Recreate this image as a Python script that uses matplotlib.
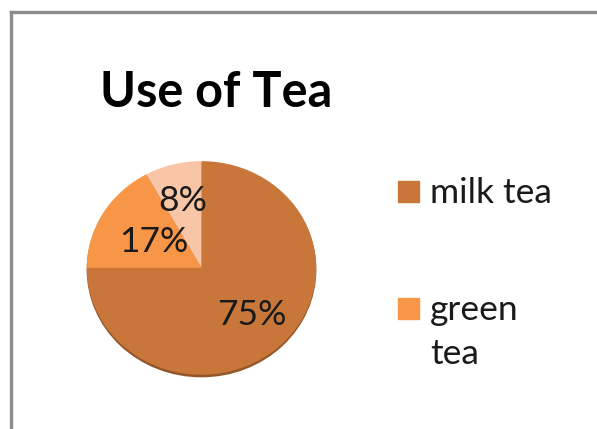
import matplotlib.pyplot as plt
from matplotlib.lines import Line2D
from matplotlib.patches import Rectangle, Ellipse
import numpy as np

# tea usage shares (%)
categorias = ["milk tea", "green tea", "black tea"]
valores = [75, 17, 8]
cores = ["#C8763A", "#F79646", "#F8C6A6"]
legenda = ["milk tea", "green\ntea"]

W, H = 597, 429
fig = plt.figure(figsize=(W / 100, H / 100), dpi=100)
fig.patch.set_facecolor("white")

# frame of the chart area (top and left only)
fig.add_artist(Line2D([11 / W, 1], [1 - 12 / H, 1 - 12 / H], color="#8c8c8c", lw=2.4))
fig.add_artist(Line2D([11 / W, 11 / W], [1 - 12 / H, 0], color="#8c8c8c", lw=2.4))

fig.text(100 / W, 1 - 107 / H, "Use of Tea", family="Lato", weight="bold",
         fontsize=35, color="black", va="baseline")

# pie axes, a bit flatter than a circle
cx, cy, rx, ry = 201.5, 269, 117, 110
ax = fig.add_axes([(cx - rx) / W, 1 - (cy + ry) / H, 2 * rx / W, 2 * ry / H])
ax.add_patch(Ellipse((0, -0.018), 1.99, 2.0, color="#93562a", zorder=0))
wedges, textos = ax.pie(valores, colors=cores, startangle=90, counterclock=False,
                        radius=1, wedgeprops=dict(linewidth=0))
ax.set_aspect("auto")
ax.set_xlim(-1.02, 1.02)
ax.set_ylim(-1.04, 1.02)
ax.axis("off")

dist = [0.62, 0.48, 0.65]
for w, v, d in zip(wedges, valores, dist):
    ang = np.deg2rad((w.theta1 + w.theta2) / 2)
    ax.text(d * np.cos(ang), d * np.sin(ang), f"{v}%", ha="center", va="center",
            family="Lato", fontsize=25.5, color="#1a1a1a")

# legend (third entry falls outside the frame)
ys = [192, 309]
for nome, cor, y in zip(legenda, cores, ys):
    fig.add_artist(Rectangle((398 / W, 1 - (y + 10) / H), 21 / W, 21 / H,
                             color=cor, transform=fig.transFigure))
    fig.text(430 / W, 1 - (y - 15) / H, nome, family="Lato", fontsize=25.5,
             color="#1a1a1a", va="top", linespacing=1.45)

fig.savefig("out.png", dpi=100)
